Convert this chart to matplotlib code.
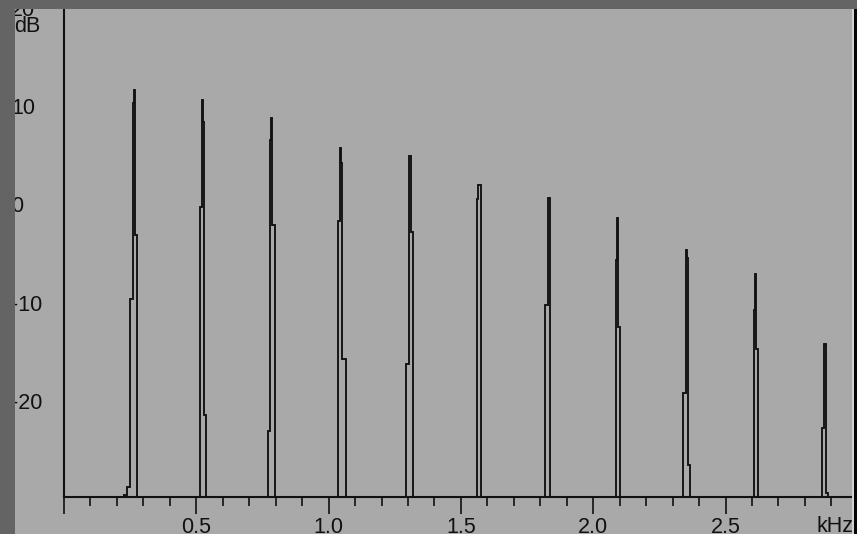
import numpy as np
import matplotlib
matplotlib.use("Agg")
import matplotlib.pyplot as plt
from matplotlib.patches import Rectangle
from matplotlib.ticker import MultipleLocator, FixedLocator, FixedFormatter

# Spectrum of a harmonic tone: each harmonic is a short run of FFT bins (dB)
bin_width_khz = 0.004231
floor_db = -40.0

harmonic_starts_khz = [0.22509, 0.51228, 0.77068, 1.03513, 1.29392, 1.56215,
                       1.81904, 2.08462, 2.34039, 2.60710, 2.86362]
harmonic_levels_db = [
    [-29.6, -29.6, -29.6, -28.8, -28.8, -28.8, -9.6, -9.6, 10.3, 11.6, -3.1, -3.1],
    [-0.3, -0.3, 10.6, 8.4, -21.4, -21.4],
    [-23.1, -23.1, 6.5, 8.75, -2.1, -2.1],
    [-1.7, -1.7, 5.7, 4.2, -15.7, -15.7, -15.7],
    [-16.2, -16.2, 4.9, 4.9, -2.8, -2.8],
    [0.5, 2.0, 2.0],
    [-10.2, -10.2, 0.6, 0.6],
    [-5.7, -1.4, -12.5, -12.5],
    [-19.2, -19.2, -4.7, -5.5, -26.5, -26.5],
    [-10.8, -7.1, -14.7, -14.7],
    [-22.8, -22.8, -14.2, -14.2, -29.4, -29.4],
]

x_major_ticks = [0.0, 0.5, 1.0, 1.5, 2.0, 2.5]
x_major_labels = ["", "0.5", "1.0", "1.5", "2.0", "2.5"]
y_ticks = [-20, -10, 0, 10, 20]
y_labels = ["-20", "-10", "0", "10", "20"]

# build one continuous step outline across the band
edges = [0.0]
values = []
for start, levels in zip(harmonic_starts_khz, harmonic_levels_db):
    edges.append(start)
    values.append(floor_db)
    for k, lv in enumerate(levels):
        edges.append(start + (k + 1) * bin_width_khz)
        values.append(lv)
edges.append(3.2)
values.append(floor_db)

W, H = 857, 534
plt.rcParams["font.family"] = ["Liberation Sans", "DejaVu Sans"]
fig = plt.figure(figsize=(W / 100, H / 100), dpi=100, facecolor="#a9a9a9")

ax_left, ax_right, ax_bottom, ax_top = 64, 852, 497, 0
ax = fig.add_axes([ax_left / W, (H - ax_bottom) / H,
                   (ax_right - ax_left) / W, (ax_bottom - ax_top) / H])
ax.set_facecolor("none")

ink = "#111111"
ax.stairs(values, edges, color=ink, linewidth=1.35, baseline=None)

ax.set_xlim(0, 2.978)
ax.set_ylim(-29.78, 20.78)

for s in ["top", "right"]:
    ax.spines[s].set_visible(False)
for s in ["left", "bottom"]:
    ax.spines[s].set_color(ink)
    ax.spines[s].set_linewidth(1.5)

ax.xaxis.set_major_locator(FixedLocator(x_major_ticks))
ax.xaxis.set_major_formatter(FixedFormatter(x_major_labels))
ax.xaxis.set_minor_locator(MultipleLocator(0.1))
ax.tick_params(axis="x", which="major", direction="out", length=12.2,
               width=1.2, color=ink, pad=2.0, labelsize=15.5, labelcolor=ink)
ax.tick_params(axis="x", which="minor", direction="out", length=6.8,
               width=1.2, color=ink)

ax.set_yticks(y_ticks)
ax.set_yticklabels(y_labels)
ax.tick_params(axis="y", length=0, pad=38.2, labelsize=15.5, labelcolor=ink)
for t in ax.get_yticklabels():
    t.set_horizontalalignment("left")

fig.text(14 / W, (H - 32) / H, "dB", ha="left", va="baseline",
         fontsize=15.5, color=ink)
fig.text(853 / W, (H - 516) / H, "kHz", ha="right", va="top",
         fontsize=15.5, color=ink)

# window frame around the plot area
frame = "#646464"
def px_rect(x0, y0, x1, y1, color):
    fig.patches.append(Rectangle((x0 / W, 1 - y1 / H), (x1 - x0) / W,
                                 (y1 - y0) / H, transform=fig.transFigure,
                                 facecolor=color, edgecolor="none", zorder=10))

px_rect(0, 0, 15, H, frame)
px_rect(0, 0, W, 9.3, frame)
px_rect(852, 9.3, 854, H, "#d2d2d2")
px_rect(854, 9.3, W, H, "#050505")

fig.savefig("out.png", dpi=100, facecolor=fig.get_facecolor())
